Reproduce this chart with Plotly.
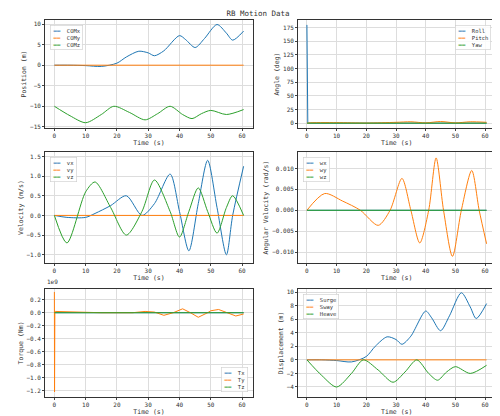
import plotly.graph_objects as go

F = "DejaVu Sans Mono"
C1, C2, C3 = "#1f77b4", "#ff7f0e", "#2ca02c"

t_com = [0, 5, 10, 15, 20, 23, 27, 30, 32, 35, 40, 42, 45, 48, 52, 55, 57, 60.5]
comx = [0, 0, -0.1, -0.3, 0.5, 2.0, 3.4, 3.0, 2.3, 3.5, 7.2, 6.2, 4.3, 6.5, 9.9, 7.8, 6.1, 8.3]
t_z = [0, 5, 10, 15, 19, 24, 29, 33, 37, 41, 44, 47, 50, 55, 60.5]
comz = [-10, -12.3, -14, -12, -10, -11.5, -13.3, -11.8, -10, -12, -13, -11.8, -11, -12, -10.8]
t_line = [0, 60.5]
zero = [0, 0]

t_ang = [0, 0.3, 0.6, 10, 20, 30, 35, 40, 45, 50, 55, 60.5]
roll = [180, 0, 0, 0, 0, 0, 0, 0, 0, 0, 0, 0]
pitch = [0, 0, 0.5, 1.0, 0.2, 1.5, 2.5, 0.5, 3.0, 0.5, 2.5, 1.5]

t_v = [0, 4, 10, 13, 18, 23, 28, 32, 37, 40, 43, 46, 49, 52, 55, 57, 60.5]
vx = [0, -0.05, -0.05, 0.05, 0.25, 0.5, 0.0, 0.3, 1.05, 0.1, -0.9, 0.3, 1.4, 0.2, -1.0, 0.0, 1.25]
vz = [0, -0.7, 0.6, 0.85, 0.2, -0.5, 0.1, 0.9, 0.1, -0.55, 0.1, 0.7, 0.1, -0.45, 0.2, 0.5, 0.0]

t_w = [0, 6, 12, 18, 24, 28, 32, 35, 38, 41, 43.5, 46, 49, 52, 55.5, 58, 60.5]
wy = [0, 0.004, 0.0022, 0, -0.0036, 0.0, 0.0076, 0.0, -0.0078, 0.0, 0.0125, 0.0, -0.011, 0.0, 0.0095, 0.0, -0.008]

t_tq = [0, 0.05, 0.15, 0.3, 5, 15, 25, 29, 32, 35, 38, 41, 43.5, 46, 49, 50, 52.5, 55, 58, 60.5]
tp = [0.32, -1.22, 0.02, 0.02, 0.01, 0, 0, 0.02, 0.01, -0.04, 0.0, 0.06, 0.0, -0.07, 0.0, 0.03, 0.05, 0.0, -0.05, -0.02]

surge = comx
heave = [v + 10 for v in comz]

doms = [((0.074, 0.49), (0.71, 0.971)), ((0.58, 0.975), (0.71, 0.971)),
        ((0.074, 0.49), (0.385, 0.651)), ((0.58, 0.975), (0.385, 0.651)),
        ((0.074, 0.49), (0.06, 0.322)), ((0.58, 0.975), (0.06, 0.322))]
ylabels = ["Position (m)", "Angle (deg)", "Velocity (m/s)", "Angular Velocity (rad/s)", "Torque (Nm)", "Displacement (m)"]
yranges = [[-15.3, 11], [-9, 189], [-1.2, 1.6], [-0.0125, 0.0138], [-1.3, 0.37], [-5.5, 10.5]]
ydt = [5, 25, 0.5, 0.005, 0.2, 2]
ytf = ["", "", ".1f", ".3f", ".1f", ""]

series = [
    [(t_com, comx, "COMx", C1), (t_line, zero, "COMy", C2), (t_z, comz, "COMz", C3)],
    [(t_ang, roll, "Roll", C1), (t_ang, pitch, "Pitch", C2), (t_line, zero, "Yaw", C3)],
    [(t_v, vx, "vx", C1), (t_line, zero, "vy", C2), (t_v, vz, "vz", C3)],
    [(t_line, zero, "wx", C1), (t_w, wy, "wy", C2), (t_line, zero, "wz", C3)],
    [(t_line, zero, "Tx", C1), (t_tq, tp, "Ty", C2), (t_line, zero, "Tz", C3)],
    [(t_com, surge, "Surge", C1), (t_line, zero, "Sway", C2), (t_z, heave, "Heave", C3)],
]
legpos = [("left", "top"), ("right", "top"), ("left", "top"), ("left", "top"), ("right", "bottom"), ("left", "top")]

fig = go.Figure()
layout = dict(width=500, height=416, margin=dict(l=0, r=0, t=0, b=0), showlegend=False,
              paper_bgcolor="white", plot_bgcolor="white", font=dict(family=F, size=6, color="#333"),
              title=dict(text="RB Motion Data", x=0.5, y=0.993, yanchor="top", font=dict(family=F, size=7.5, color="#333")))
anns = []
for i in range(6):
    k = "" if i == 0 else str(i + 1)
    for (x, y, n, c) in series[i]:
        spike = (i in (1, 4) and n in ("Roll", "Ty"))
        fig.add_trace(go.Scatter(x=x, y=y, name=n, mode="lines",
                                 line=dict(color=c, width=1, shape="linear" if spike else "spline", smoothing=0.8),
                                 xaxis="x" + k, yaxis="y" + k))
    xd, yd = doms[i]
    xa, ya = legpos[i]
    layout["xaxis" + k] = dict(domain=list(xd), anchor="y" + k, range=[-3, 63.5], dtick=10,
                               showline=True, mirror=True, linecolor="#333", linewidth=0.8,
                               gridcolor="#ddd", ticks="outside", ticklen=2, zeroline=False,
                               title=dict(text="Time (s)", standoff=1, font=dict(size=6.5)))
    layout["yaxis" + k] = dict(domain=list(yd), anchor="x" + k, range=yranges[i], dtick=ydt[i],
                               tickformat=ytf[i], showline=True, mirror=True, linecolor="#333", linewidth=0.8,
                               gridcolor="#ddd", ticks="outside", ticklen=2, zeroline=False,
                               title=dict(text=ylabels[i], standoff=2, font=dict(size=6.5)))
    lx = xd[0] + 0.01 if xa == "left" else xd[1] - 0.01
    ly = yd[1] - 0.012 if ya == "top" else yd[0] + 0.012
    txt = "<br>".join(f"<span style='color:{c}'>━━</span>  {n}" for (_, _, n, c) in series[i])
    anns.append(dict(text=txt, x=lx, y=ly, xref="paper", yref="paper", xanchor=xa, yanchor=ya,
                     align="left", showarrow=False, bgcolor="rgba(255,255,255,0.85)",
                     bordercolor="#ccc", borderwidth=0.6, borderpad=2, font=dict(size=5.5)))
anns.append(dict(text="1e9", x=0.074, y=0.325, xref="paper", yref="paper", xanchor="left", yanchor="bottom",
                 showarrow=False, font=dict(size=6)))
layout["annotations"] = anns
fig.update_layout(**layout)
fig.write_html("out.html")
